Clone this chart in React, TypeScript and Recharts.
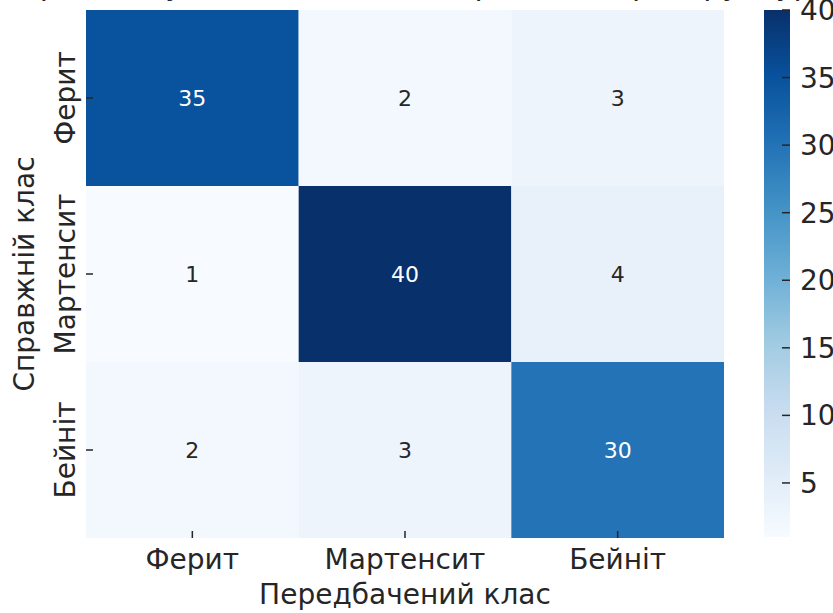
import React from 'react';
import { ComposedChart, XAxis, YAxis, ReferenceArea, Scatter } from 'recharts';

const classes = ['Ферит', 'Мартенсит', 'Бейніт'];
const rowFerrite = [35, 2, 3];
const rowMartensite = [1, 40, 4];
const rowBainite = [2, 3, 30];
const matrix = [rowFerrite, rowMartensite, rowBainite];
const classTicks = [0.5, 1.5, 2.5];
const colorbarTicks = [5, 10, 15, 20, 25, 30, 35, 40];
const vMin = 1;
const vMax = 40;
const titleText = 'Матриця плутанини для класифікації мікроструктури';
const xTitle = 'Передбачений клас';
const yTitle = 'Справжній клас';

const BLUES = ['#f7fbff', '#deebf7', '#c6dbef', '#9ecae1', '#6baed6', '#4292c6', '#2171b5', '#08519c', '#08306b'];
const FONT = '"DejaVu Sans", sans-serif';
const DARK = '#262626';

function hexToRgb(h: string) {
  return [parseInt(h.slice(1, 3), 16), parseInt(h.slice(3, 5), 16), parseInt(h.slice(5, 7), 16)];
}
function blues(v: number) {
  let t = (v - vMin) / (vMax - vMin);
  t = Math.max(0, Math.min(1, t));
  const pos = t * (BLUES.length - 1);
  const i = Math.min(BLUES.length - 2, Math.floor(pos));
  const f = pos - i;
  const a = hexToRgb(BLUES[i]);
  const b = hexToRgb(BLUES[i + 1]);
  const c = a.map((x, k) => Math.round(x + (b[k] - x) * f));
  return `rgb(${c[0]},${c[1]},${c[2]})`;
}
function level(v: number) {
  return (v - vMin) / (vMax - vMin);
}

const cells = matrix.flatMap((row, r) =>
  row.map((v, c) => ({ x: c + 0.5, y: r + 0.5, r, c, v }))
);
const cbAnchor = [{ x: 0.5, y: vMin }, { x: 0.5, y: vMax }];

// layout
const PLOT_LEFT = 86;
const PLOT_BOTTOM = 538;
const TICK_LEN = 7;
const CB_RIGHT = 26;
const MAIN_MARGIN = { top: 10, left: 0, right: 109, bottom: 0 };
const CB_MARGIN = { top: 10, left: 0, right: 0, bottom: 76 };

const YTickText = (props: any) => {
  const { y, payload } = props;
  const label = classes[Math.round(payload.value - 0.5)];
  const bx = 75;
  return (
    <text x={bx} y={y} transform={`rotate(-90, ${bx}, ${y})`} textAnchor="middle" fontSize={28} fontFamily={FONT} fill={DARK}>
      {label}
    </text>
  );
};
const YTickLine = (props: any) => {
  const { y } = props;
  return <line x1={PLOT_LEFT} x2={PLOT_LEFT + TICK_LEN} y1={y} y2={y} stroke={DARK} strokeWidth={1.5} />;
};

const XTickText = (props: any) => {
  const { x, payload } = props;
  const label = classes[Math.round(payload.value - 0.5)];
  return (
    <text x={x} y={569} textAnchor="middle" fontSize={28} fontFamily={FONT} fill={DARK}>
      {label}
    </text>
  );
};
const XTickLine = (props: any) => {
  const { x } = props;
  return <line x1={x} x2={x} y1={PLOT_BOTTOM} y2={PLOT_BOTTOM - TICK_LEN} stroke={DARK} strokeWidth={1.5} />;
};

const CellLabel = (props: any) => {
  const { cx, cy, payload } = props;
  const v = payload.v;
  const fill = level(v) > 0.5 ? '#ffffff' : DARK;
  return (
    <text x={cx} y={cy} dy={8} textAnchor="middle" fontSize={22} fontFamily={FONT} fill={fill}>
      {v}
    </text>
  );
};

const CbTickText = (props: any) => {
  const { y, payload } = props;
  return (
    <text x={CB_RIGHT + 10} y={y} dy={10} textAnchor="start" fontSize={28} fontFamily={FONT} fill={DARK}>
      {payload.value}
    </text>
  );
};
const CbTickLine = (props: any) => {
  const { y } = props;
  return <line x1={CB_RIGHT - 8} x2={CB_RIGHT} y1={y} y2={y} stroke={DARK} strokeWidth={1.5} />;
};

const Empty = () => null;

export default function App() {
  return (
    <div style={{ position: 'absolute', left: 0, top: 0, width: 833, height: 613, background: '#fff', overflow: 'hidden' }}>
      <div
        style={{
          position: 'absolute',
          left: 405 - 600,
          width: 1200,
          top: -34,
          textAlign: 'center',
          fontFamily: FONT,
          fontSize: 30,
          lineHeight: '38px',
          color: DARK,
          whiteSpace: 'nowrap',
        }}
      >
        {titleText}
      </div>
      {/* heatmap */}
      <div style={{ position: 'absolute', left: 0, top: 0 }}>
        <ComposedChart width={833} height={613} margin={MAIN_MARGIN}>
          <XAxis
            type="number"
            dataKey="x"
            domain={[0, 3]}
            ticks={classTicks}
            axisLine={false}
            tickLine={false}
            tick={<XTickText />}
            height={75}
            interval={0}
            label={{ value: xTitle, position: 'insideBottom', offset: 9, fontSize: 28, fontFamily: FONT, fill: DARK }}
          />
          <YAxis
            type="number"
            dataKey="y"
            domain={[0, 3]}
            reversed
            ticks={classTicks}
            axisLine={false}
            tickLine={false}
            tick={<YTickText />}
            width={86}
            interval={0}
            label={{ value: yTitle, angle: -90, position: 'insideLeft', offset: 24, fontSize: 28, fontFamily: FONT, fill: DARK, style: { textAnchor: 'middle' } }}
          />
          {cells.map((d) => (
            <ReferenceArea
              key={`${d.r}-${d.c}`}
              x1={d.c}
              x2={d.c + 1}
              y1={d.r}
              y2={d.r + 1}
              fill={blues(d.v)}
              fillOpacity={1}
              stroke="none"
              ifOverflow="visible"
            />
          ))}
          <Scatter data={cells} dataKey="y" shape={<CellLabel />} isAnimationActive={false} />
        </ComposedChart>
      </div>
      {/* heatmap tick marks overlay (inward ticks drawn above cells) */}
      <div style={{ position: 'absolute', left: 0, top: 0, pointerEvents: 'none' }}>
        <ComposedChart width={833} height={613} margin={MAIN_MARGIN}>
          <XAxis type="number" dataKey="x" domain={[0, 3]} ticks={classTicks} axisLine={false} tickLine={false} tick={<XTickLine />} height={75} interval={0} />
          <YAxis type="number" dataKey="y" domain={[0, 3]} reversed ticks={classTicks} axisLine={false} tickLine={false} tick={<YTickLine />} width={86} interval={0} />
          <Scatter data={cells} dataKey="y" shape={<Empty />} isAnimationActive={false} />
        </ComposedChart>
      </div>
      {/* colorbar */}
      <div style={{ position: 'absolute', left: 764, top: 0 }}>
        <ComposedChart width={69} height={613} margin={CB_MARGIN}>
          <defs>
            <linearGradient id="cbGrad" x1="0" y1="1" x2="0" y2="0">
              {BLUES.map((c, i) => (
                <stop key={i} offset={`${(i / (BLUES.length - 1)) * 100}%`} stopColor={c} />
              ))}
            </linearGradient>
          </defs>
          <XAxis type="number" dataKey="x" domain={[0, 1]} hide />
          <YAxis
            type="number"
            dataKey="y"
            orientation="right"
            domain={[vMin, vMax]}
            ticks={colorbarTicks}
            axisLine={false}
            tickLine={false}
            tick={<CbTickText />}
            width={43}
            interval={0}
          />
          <ReferenceArea x1={0} x2={1} y1={vMin} y2={vMax} fill="url(#cbGrad)" fillOpacity={1} stroke="none" ifOverflow="visible" />
          <Scatter data={cbAnchor} dataKey="y" shape={<Empty />} isAnimationActive={false} />
        </ComposedChart>
      </div>
      <div style={{ position: 'absolute', left: 764, top: 0, pointerEvents: 'none' }}>
        <ComposedChart width={69} height={613} margin={CB_MARGIN}>
          <XAxis type="number" dataKey="x" domain={[0, 1]} hide />
          <YAxis
            type="number"
            dataKey="y"
            orientation="right"
            domain={[vMin, vMax]}
            ticks={colorbarTicks}
            axisLine={false}
            tickLine={false}
            tick={<CbTickLine />}
            width={43}
            interval={0}
          />
          <Scatter data={cbAnchor} dataKey="y" shape={<Empty />} isAnimationActive={false} />
        </ComposedChart>
      </div>
    </div>
  );
}
